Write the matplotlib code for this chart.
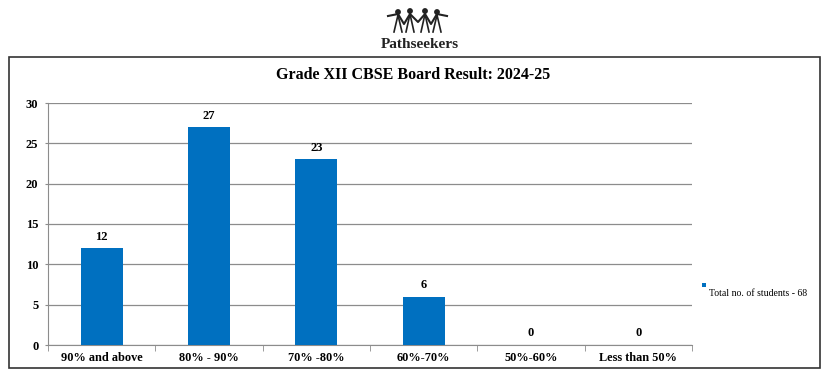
import matplotlib
matplotlib.use("Agg")
import matplotlib.pyplot as plt
from matplotlib.patches import Rectangle, Circle
from matplotlib.lines import Line2D

categories = ["90% and above", "80% - 90%", "70% -80%", "60%-70%", "50%-60%", "Less than 50%"]
values = [12, 27, 23, 6, 0, 0]
yticks = [0, 5, 10, 15, 20, 25, 30]
title = "Grade XII CBSE Board Result: 2024-25"
legend_label = "Total no. of students - 68"

serif = ["Liberation Serif", "DejaVu Serif"]
bar_color = "#0070C0"
W, H = 825, 376

fig = plt.figure(figsize=(W / 100, H / 100), dpi=100)

# outer chart frame
fig.patches.append(Rectangle((9 / W, 1 - 368 / H), (820 - 9) / W, (368 - 57) / H,
                             transform=fig.transFigure, fill=False,
                             edgecolor="#333333", linewidth=1.2))

# logo (decorative)
lx = fig.add_axes([380 / W, 1 - 36 / H, 75 / W, 30 / H])
lx.set_xlim(0, 75); lx.set_ylim(0, 30); lx.axis("off")
heads = [(18, 24), (30, 25), (45, 25), (57, 24)]
for hx, hy in heads:
    lx.add_patch(Circle((hx, hy), 2.2, color="#222222"))
lx.add_line(Line2D([8, 18, 24, 30, 38, 45, 51, 57, 67],
                   [20, 22, 12, 22, 14, 22, 12, 22, 20], color="#222222", lw=1.5))
for hx, hy in heads:
    lx.add_line(Line2D([hx, hx - 4], [hy - 3, 4], color="#222222", lw=1.2))
    lx.add_line(Line2D([hx, hx + 4], [hy - 3, 4], color="#222222", lw=1.2))
fig.text(420 / W, 1 - 45 / H, "Pathseekers", ha="center", va="center",
         fontsize=11, fontweight="bold", family=serif, color="#222222")

ax = fig.add_axes([48 / W, 1 - 345 / H, (692 - 48) / W, (345 - 103) / H])
x = list(range(len(categories)))
bars = ax.bar(x, values, width=0.39, color=bar_color, zorder=3)
for xi, v in zip(x, values):
    ax.text(xi, v + 0.7, str(v), ha="center", va="bottom", fontsize=9,
            fontweight="bold", family=serif)

ax.set_xlim(-0.5, len(categories) - 0.5)
ax.set_ylim(0, 30)
ax.set_yticks(yticks)
ax.set_yticklabels([str(t) for t in yticks], fontsize=9, fontweight="bold", family=serif)
ax.yaxis.grid(True, color="#8c8c8c", linewidth=0.9, zorder=0)
ax.set_xticks(x)
ax.set_xticklabels(categories, fontsize=8.8, fontweight="bold", family=serif)
ax.tick_params(axis="x", length=0, pad=5)
ax.set_xticks([i + 0.5 for i in range(-1, len(categories))], minor=True)
ax.tick_params(axis="x", which="minor", length=4, color="#8c8c8c")
ax.tick_params(axis="y", length=2.5, color="#8c8c8c", pad=4.5)
for s in ["top", "right"]:
    ax.spines[s].set_visible(False)
ax.spines["left"].set_color("#8c8c8c")
ax.spines["bottom"].set_color("#8c8c8c")

fig.text(413 / W, 1 - 75 / H, title, ha="center", va="center",
         fontsize=11.5, fontweight="bold", family=serif)

# legend: small square key above-left of label
fig.patches.append(Rectangle((702 / W, 1 - 287 / H), 4 / W, 4 / H,
                             transform=fig.transFigure, facecolor=bars.patches[0].get_facecolor(),
                             edgecolor="none"))
fig.text(709 / W, 1 - 294 / H, legend_label, ha="left", va="center",
         fontsize=7, family=serif)

fig.savefig("out.png", dpi=100)
